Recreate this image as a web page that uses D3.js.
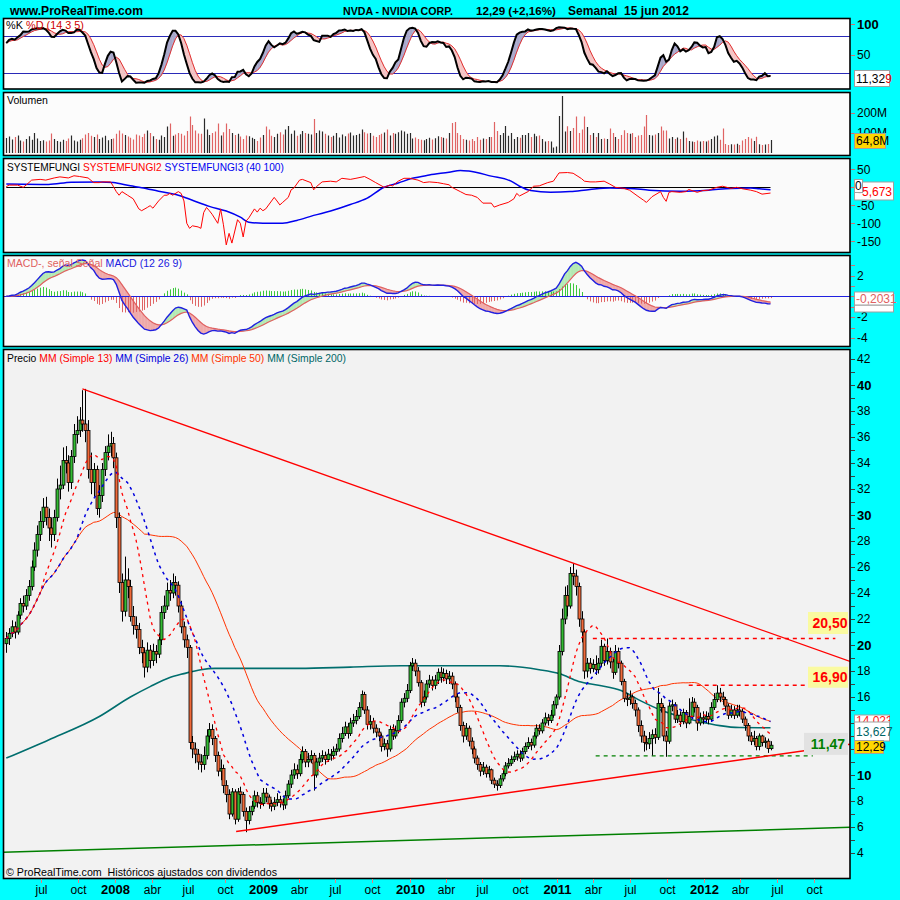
<!DOCTYPE html>
<html><head><meta charset="utf-8">
<script src="https://cdnjs.cloudflare.com/ajax/libs/d3/7.8.5/d3.min.js"></script>
<style>
body{margin:0;background:#00FFFF;}
svg{display:block;font-family:"Liberation Sans",Arial,sans-serif;}
text{white-space:pre;}
</style>
</head><body>
<svg id="c" width="900" height="900"></svg>
<script>
// ---------------- DATA ----------------
const startDate = "2007-04-06";   // first weekly bar
const firstOpen = 20.1;
const closes = [
20.5,20.9,21.4,21.0,22.3,23.2,23.0,23.8,24.5,26.0,
27.3,28.5,29.5,30.6,29.8,29.0,28.5,29.8,32.0,32.3,
34.2,34.0,32.5,34.5,36.2,36.5,37.3,37.0,36.5,33.5,
32.5,33.5,30.5,31.5,33.5,34.8,35.3,35.5,34.4,29.8,
24.8,22.6,25.0,24.5,22.2,21.5,21.2,19.8,19.4,18.3,
19.6,18.8,19.5,19.3,20.4,22.5,23.0,24.2,24.0,24.8,
24.6,23.0,21.4,20.4,19.8,12.5,12.0,11.6,11.0,10.8,
11.5,13.0,13.5,12.8,11.5,10.3,10.5,9.2,8.5,7.0,
8.7,6.6,8.7,8.5,7.2,6.5,7.2,7.6,8.4,7.9,
7.8,8.6,8.3,7.8,7.6,7.9,8.1,7.9,7.7,8.4,
9.3,10.0,10.4,10.1,11.2,11.8,11.0,11.2,11.5,10.0,
11.0,11.3,11.5,11.2,11.6,11.5,11.8,12.0,12.8,13.2,
13.7,13.2,14.0,14.2,14.5,15.2,16.2,15.0,13.9,14.1,
13.6,13.3,13.0,12.2,12.4,12.0,13.5,13.0,13.4,14.2,
15.6,15.9,16.5,18.4,18.6,18.0,17.1,15.6,16.0,17.0,
17.3,16.9,17.3,17.9,17.5,17.8,17.4,17.6,17.0,16.0,
15.2,13.8,13.0,13.6,12.6,12.0,11.3,10.8,10.3,10.6,
10.1,10.4,9.6,9.3,9.2,9.7,10.1,10.7,10.9,11.2,
11.4,11.6,11.3,11.8,12.2,12.5,12.3,13.0,13.6,13.4,
14.0,14.4,14.2,14.6,15.4,16.0,19.5,22.0,23.8,23.0,
25.5,25.3,24.5,22.0,21.0,18.0,18.6,18.2,18.5,18.1,
18.6,19.9,18.8,19.5,18.7,17.9,19.5,18.6,17.2,15.9,
15.8,16.0,15.5,15.0,13.8,13.0,12.5,12.4,12.8,13.1,
12.9,15.5,15.2,13.0,12.6,15.3,15.4,14.3,14.6,14.1,
14.8,14.0,14.5,15.6,15.2,14.0,14.4,14.3,14.5,14.3,
15.2,15.8,16.3,16.0,15.8,15.3,14.6,15.0,14.6,15.0,
14.9,14.3,13.8,13.0,12.6,12.8,12.2,13.0,12.5,12.6,
12.03,12.29];
const highs = [
21.0,21.3,21.9,21.8,22.6,23.6,23.8,24.3,25.0,26.5,
27.9,29.2,30.3,31.3,31.4,30.5,29.8,30.4,32.8,33.8,
35.2,35.3,34.6,35.0,37.0,37.6,38.3,39.6,39.7,37.3,
34.8,34.0,33.8,32.3,34.0,35.3,36.2,36.4,36.0,34.8,
30.2,25.5,26.8,25.9,25.0,23.0,22.2,21.7,20.4,19.8,
20.2,20.0,20.1,20.0,20.9,23.0,23.8,24.8,25.0,25.5,
25.3,24.9,23.4,21.8,20.8,20.0,13.0,12.5,12.0,11.6,
12.2,13.5,14.0,13.9,13.0,11.8,11.2,10.8,9.6,8.9,
9.0,8.9,9.0,9.1,8.7,7.5,7.6,8.0,8.8,8.7,
8.3,9.0,9.0,8.5,8.1,8.3,8.6,8.4,8.2,8.8,
9.6,10.4,10.9,10.8,11.6,12.2,12.0,11.7,11.9,11.7,
11.3,11.7,11.9,11.8,12.0,12.0,12.2,12.4,13.2,13.7,
14.1,14.0,14.4,14.7,15.0,15.6,16.5,16.4,15.3,14.6,
14.4,13.9,13.6,13.2,12.8,12.7,13.8,13.9,13.8,14.6,
15.9,16.3,17.0,18.7,19.0,18.9,18.3,17.3,16.5,17.3,
17.7,17.6,17.7,18.2,18.3,18.2,18.1,18.0,17.9,17.2,
16.3,15.4,14.1,14.0,13.8,12.9,12.2,11.5,11.0,11.0,
10.8,10.7,10.5,9.8,9.6,10.0,10.4,11.0,11.3,11.5,
11.8,11.9,11.9,12.1,12.5,12.9,12.8,13.3,13.9,13.9,
14.3,14.8,14.7,15.0,15.7,16.2,20.0,22.8,24.5,24.6,
26.0,26.3,25.8,24.8,22.6,21.2,19.0,19.0,18.9,19.2,
19.0,20.4,20.1,20.5,19.8,19.0,20.0,19.8,18.8,17.4,
16.3,16.5,16.2,15.8,15.2,14.2,13.4,13.0,13.3,13.5,
13.6,16.7,15.9,15.4,13.4,15.6,15.8,15.6,15.0,14.9,
15.1,15.0,15.9,16.0,15.9,15.4,14.8,14.9,14.9,14.8,
15.6,16.3,16.9,16.7,16.4,16.0,15.5,15.4,15.3,15.4,
15.4,15.1,14.5,14.0,13.3,13.4,13.0,13.2,13.1,12.9,
12.8,12.6];
const lows = [
19.4,20.0,20.6,20.5,20.8,22.0,22.5,22.7,23.4,24.2,
25.7,26.8,28.0,29.0,29.2,28.0,27.5,28.0,29.5,31.2,
32.0,33.2,31.8,32.0,34.0,35.5,36.0,36.4,35.6,32.8,
31.6,31.4,30.0,29.8,31.0,33.0,34.2,34.5,33.6,29.0,
24.0,21.8,22.2,23.6,21.8,20.8,20.5,19.3,18.6,17.5,
17.9,18.2,18.4,18.6,19.0,20.0,22.0,22.7,23.4,23.6,
23.8,22.5,20.9,19.8,19.0,12.0,11.3,10.9,10.4,10.2,
10.4,11.2,12.5,12.3,11.0,9.9,9.6,8.6,7.9,6.6,
6.8,6.2,6.4,7.8,6.8,5.6,6.2,6.9,7.4,7.5,
7.4,7.6,7.9,7.4,7.2,7.3,7.6,7.5,7.3,7.4,
8.2,9.0,9.7,9.7,9.9,10.9,10.6,10.6,10.9,8.8,
9.8,10.7,11.0,10.8,11.0,11.1,11.2,11.5,11.8,12.5,
13.0,12.8,13.0,13.7,13.9,14.3,15.0,14.7,13.5,13.5,
13.2,12.9,12.6,11.8,11.9,11.4,11.8,12.7,12.8,13.2,
14.0,15.2,15.6,16.3,18.0,17.6,16.8,15.2,15.3,15.8,
16.7,16.5,16.6,17.0,17.1,17.2,17.0,17.0,16.6,15.6,
14.8,13.4,12.5,12.7,12.2,11.6,10.9,10.4,9.9,10.0,
9.8,9.8,9.3,9.0,8.8,9.0,9.5,9.9,10.5,10.7,
11.0,11.1,11.0,11.1,11.6,12.0,11.9,12.1,12.8,13.1,
13.2,13.8,13.8,14.0,14.4,15.1,15.8,19.2,21.6,22.2,
22.8,24.6,23.8,21.4,20.2,17.4,17.5,17.8,17.9,17.7,
17.8,18.3,18.4,18.5,18.2,17.4,17.7,18.2,16.9,15.6,
15.3,15.4,15.1,14.5,13.3,12.5,11.8,11.9,12.0,11.5,
12.4,12.7,14.8,12.6,11.4,12.4,14.9,14.0,14.0,13.7,
13.9,13.6,13.9,14.3,14.8,13.4,13.8,13.9,14.0,13.9,
14.1,15.0,15.6,15.6,15.4,14.9,14.3,14.4,14.3,14.4,
14.5,14.0,13.4,12.6,12.3,12.3,11.9,11.9,12.2,12.1,
11.7,11.9];
const volumes = [ // millions of shares
75,82,68,80,88,62,58,70,84,66,
100,72,60,64,58,62,98,70,60,56,
66,60,72,88,62,58,66,74,92,100,
86,80,92,70,78,86,64,70,72,96,
112,98,90,82,76,68,92,88,80,96,
113,100,84,70,66,88,80,132,148,86,
92,100,96,88,110,182,140,112,98,96,
173,117,90,100,108,148,88,104,148,120,
100,90,96,82,70,88,84,76,70,60,
78,90,132,118,86,80,96,104,92,118,
135,96,113,86,94,110,100,96,92,170,
100,113,108,96,88,80,86,100,78,92,
84,98,102,88,90,96,118,104,98,100,
86,80,90,96,102,118,88,100,96,104,
113,108,96,100,72,78,70,66,64,70,
76,68,74,84,80,76,72,100,150,155,
100,90,70,66,62,70,60,80,66,72,
70,80,80,155,110,90,100,135,86,100,
70,80,76,90,90,100,80,96,84,88,
70,57,60,57,28,32,185,285,107,134,
110,125,182,100,118,182,130,90,100,80,
100,70,72,70,122,100,80,70,90,114,
100,96,100,80,88,90,133,190,90,88,
92,100,133,113,113,72,80,70,78,70,
107,76,60,58,55,62,57,60,57,62,
70,82,88,66,123,45,40,44,42,46,
40,62,70,80,72,60,81,44,40,42,
45,64.8];
// Simple 200 moving average: [week index, value]
const ma200Points = [[0,11.3],[15,12.7],[33,14.5],[44,16.0],[51,16.8],[58,17.5],[63,17.8],[69,18.1],[74,18.2],[86,18.2],[104,18.2],[122,18.3],[140,18.4],[157,18.4],[175,18.4],[189,18.1],[196,17.8],[203,17.2],[210,16.9],[218,16.5],[225,15.7],[232,15.0],[239,14.5],[246,14.1],[253,13.8],[260,13.65],[271,13.63]];
// SYSTEMFUNGI2 (red) [week index, value]
const fungi2Points = [[0,2],[1,6],[4,6],[6,0],[7,6],[9,20],[12,22],[14,20],[17,26],[19,29],[22,26],[24,32],[26,30],[29,26],[31,13],[33,13],[34,15],[37,15],[38,2],[39,-12],[40,-22],[41,-12],[43,-22],[45,-32],[47,-60],[48,-65],[50,-56],[51,-51],[52,-58],[54,-38],[56,-22],[57,-22],[58,-17],[59,-22],[61,-12],[62,-17],[63,-38],[64,-100],[65,-114],[66,-107],[68,-110],[69,-114],[70,-70],[71,-56],[72,-65],[73,-75],[75,-100],[76,-60],[77,-104],[78,-160],[79,-128],[80,-155],[82,-90],[83,-100],[84,-138],[85,-94],[86,-85],[88,-60],[89,-69],[90,-58],[91,-65],[92,-60],[95,-28],[96,-38],[97,-49],[98,-42],[100,-28],[101,-7],[102,-2],[104,20],[105,22],[108,13],[109,-7],[110,2],[112,15],[115,17],[117,15],[119,25],[122,22],[124,25],[127,30],[129,22],[131,13],[134,0],[136,6],[137,4],[139,17],[141,25],[143,25],[146,20],[148,13],[150,15],[153,13],[155,10],[157,7],[158,0],[161,-12],[163,-20],[165,-22],[167,-28],[169,-44],[172,-44],[173,-55],[175,-49],[178,-42],[180,-32],[181,-17],[182,-24],[185,-12],[187,3],[189,4],[192,13],[194,17],[196,40],[199,41],[201,39],[204,24],[205,17],[207,15],[209,15],[212,17],[214,9],[216,0],[219,-3],[221,-8],[224,-25],[226,-36],[227,-42],[229,-26],[232,-12],[233,-28],[234,-39],[235,-14],[236,-12],[239,-14],[241,-12],[242,-6],[245,-14],[247,-9],[249,-8],[252,0],[254,3],[257,-3],[259,0],[261,-4],[264,-8],[266,-12],[268,-19],[271,-16]];
// SYSTEMFUNGI3 (blue) [week index, value]
const fungi3Points = [[0,9],[15,8],[23,14],[33,15],[38,13],[44,4],[48,-1],[54,-11],[61,-22],[66,-36],[72,-53],[78,-66],[83,-83],[86,-97],[91,-100],[98,-100],[103,-92],[109,-78],[115,-66],[122,-48],[128,-30],[134,0],[139,12],[144,25],[150,34],[157,42],[161,47],[164,45],[172,31],[179,17],[182,3],[186,-9],[193,-14],[200,-12],[207,-6],[214,-2],[221,-3],[228,-8],[239,-11],[249,-8],[257,-3],[264,-2],[267,-4],[271,-7]];
// Trend lines [week index, price]
const trendDown = [[27,39.7],[201,26.3]];
const trendUp = [[81.5,5.65],[271,11.5]];
const trendLong = [[-2,4.05],[299,5.97]];
// Horizontal levels
const levelValues = [20.5, 16.9, 11.47];
const levelLabels = ["20,50","16,90","11,47"];
const levelFrom = [208, 242, 209];
const levelTo = [294, 293, 286];
// Last-value labels
const lastStoch = ["11,32","9"], lastVolume = "64,8M", lastFungi = ["0","-5,673"], lastMacd = "-0,2031";
const lastMA50 = "14,023", lastMA200 = "13,627", lastClose = "12,29";
const priceTickValues = d3.range(4, 43);
const hiddenPriceLabels = [12, 14];
const monthNames = {3:"abr",6:"jul",9:"oct"};

// ---------------- HELPERS ----------------
const svg = d3.select("#c");
const L = 3.5, R = 850;
const N = closes.length;
const day = 864e5;
const t0 = d3.utcParse("%Y-%m-%d")(startDate);
const dates = d3.range(N).map(i => new Date(+t0 + i*7*day));
const opens = closes.map((c,i) => i === 0 ? firstOpen : closes[i-1]);
const x = d3.scaleUtc().domain([dates[0], dates[N-1]]).range([6.3, 770.5]);
const xw = w => x(new Date(+t0 + w*7*day));
const wRight = (x.invert(R) - t0) / (7*day);

function sma(a, n){ return a.map((_, i) => d3.mean(a.slice(Math.max(0, i-n+1), i+1))); }
function ema(a, n){ const k = 2/(n+1); let e; return a.map((v,i) => e = (i === 0 ? v : v*k + e*(1-k))); }

const ma13 = sma(closes, 13), ma26 = sma(closes, 26), ma50 = sma(closes, 50);
const rawK = closes.map((c,i) => { const s = Math.max(0, i-13); const hh = d3.max(highs.slice(s,i+1)), ll = d3.min(lows.slice(s,i+1)); return hh > ll ? (c-ll)/(hh-ll)*100 : 50; });
const kLine = sma(rawK, 3), dLine = sma(kLine, 5);
const e12 = ema(closes, 12), e26 = ema(closes, 26);
const macd = e12.map((v,i) => v - e26[i]);
const sig = ema(macd, 9);
const hist = macd.map((v,i) => v - sig[i]);

const P = {
  stoch:{top:18.5,bottom:89,bg:"#FFFFFF"},
  vol:{top:92.5,bottom:155.5,bg:"#FCFCFC"},
  fungi:{top:158.5,bottom:252.5,bg:"#FAFAFA"},
  macd:{top:255.5,bottom:346.5,bg:"#FAFAFA"},
  price:{top:349.5,bottom:878.5,bg:"#F2F2F2"}
};
const yStoch = d3.scaleLinear([0,100],[85,24]);
const yVol = d3.scaleLinear([0,200],[153,113]);
const yFungi = d3.scaleLinear([-150,50],[241.3,169.3]);
const yMacd = d3.scaleLinear([-4,2],[337.9,275.5]);
const yPrice = d3.scaleLinear([4,42],[853,359]);

const defs = svg.append("defs");
Object.entries(P).forEach(([k,p]) => {
  defs.append("clipPath").attr("id","clip-"+k).append("rect").attr("x",L).attr("y",p.top).attr("width",R-L).attr("height",p.bottom-p.top);
  svg.append("rect").attr("x",L).attr("y",p.top).attr("width",R-L).attr("height",p.bottom-p.top).attr("fill",p.bg);
});
const layer = k => svg.append("g").attr("clip-path","url(#clip-"+k+")");

function segFill(g, a, b, y, upColor, downColor){
  for(let i=0;i<N-1;i++){
    const up = (a[i]+a[i+1]) - (b[i]+b[i+1]) >= 0;
    const c = up ? upColor : downColor;
    g.append("path").attr("d", d3.line()([[x(dates[i]),y(a[i])],[x(dates[i+1]),y(a[i+1])],[x(dates[i+1]),y(b[i+1])],[x(dates[i]),y(b[i])]]) + "Z")
      .attr("fill", c).attr("stroke", c).attr("stroke-width", 0.4);
  }
}
function fit(t, target){
  const len = t.node().getComputedTextLength();
  const fs = +t.attr("font-size");
  if (len > 0) t.attr("font-size", (fs*target/len).toFixed(2));
  return t;
}
function multiText(px, py, parts, size, target){
  const t = svg.append("text").attr("x",px).attr("y",py).attr("font-size",size);
  parts.forEach(([s,c,b]) => t.append("tspan").attr("fill",c).attr("font-weight",b?"bold":null).text(s));
  if (target) fit(t, target);
  return t;
}
const lineIdx = (arr, y) => d3.line().x((d,i)=>x(dates[i])).y(d=>y(d))(arr);

// ---------------- STOCHASTIC ----------------
{
  const g = layer("stoch");
  [80,20].forEach(v => g.append("line").attr("x1",L).attr("x2",R).attr("y1",Math.round(yStoch(v))+0.5).attr("y2",Math.round(yStoch(v))+0.5).attr("stroke","#2A2AB8").attr("stroke-width",1));
  segFill(g, kLine, dLine, yStoch, "#A9A9CC", "#F5C4C4");
  g.append("path").attr("d",lineIdx(dLine,yStoch)).attr("fill","none").attr("stroke","#E03030").attr("stroke-width",1);
  g.append("path").attr("d",lineIdx(kLine,yStoch)).attr("fill","none").attr("stroke","#000").attr("stroke-width",2);
  multiText(6, 29, [["%K","#000"],[" %D (14 3 5)","#D00000"]], 12, 78);
}
// ---------------- VOLUME ----------------
{
  const g = layer("vol");
  g.selectAll("line").data(d3.range(N)).join("line")
    .attr("x1",i=>Math.round(x(dates[i]))+0.5).attr("x2",i=>Math.round(x(dates[i]))+0.5)
    .attr("y1",yVol(0)).attr("y2",i=>yVol(volumes[i]))
    .attr("stroke",i=>closes[i] >= opens[i] ? "#2A2A2A" : "#E06464").attr("stroke-width",1.2);
  multiText(7, 104, [["Volumen","#000"]], 12, 41);
}
// ---------------- SYSTEMFUNGI ----------------
{
  const g = layer("fungi");
  g.append("line").attr("x1",x(dates[0])).attr("x2",x(dates[N-1])).attr("y1",Math.round(yFungi(0))+0.5).attr("y2",Math.round(yFungi(0))+0.5).attr("stroke","#000").attr("stroke-width",1.2);
  g.append("path").attr("d",d3.line().x(d=>xw(d[0])).y(d=>yFungi(d[1])).curve(d3.curveMonotoneX)(fungi3Points)).attr("fill","none").attr("stroke","#0000F0").attr("stroke-width",1.5);
  g.append("path").attr("d",d3.line().x(d=>xw(d[0])).y(d=>yFungi(d[1]))(fungi2Points)).attr("fill","none").attr("stroke","#FF0000").attr("stroke-width",1);
  multiText(7, 170.5, [["SYSTEMFUNGI","#000"],[" SYSTEMFUNGI2","#FF0000"],[" SYSTEMFUNGI3 (40 100)","#0000F0"]], 12, 277);
}
// ---------------- MACD ----------------
{
  const g = layer("macd");
  segFill(g, macd, sig, yMacd, "#B4EAB4", "#F0AAAA");
  g.selectAll("line.h").data(d3.range(N)).join("line").attr("class","h")
    .attr("x1",i=>Math.round(x(dates[i]))+0.5).attr("x2",i=>Math.round(x(dates[i]))+0.5)
    .attr("y1",yMacd(0)).attr("y2",i=>yMacd(hist[i]))
    .attr("stroke",i=>hist[i] >= 0 ? "#3CC83C" : "#E06464").attr("stroke-width",1);
  g.append("line").attr("x1",L).attr("x2",R).attr("y1",Math.round(yMacd(0))+0.5).attr("y2",Math.round(yMacd(0))+0.5).attr("stroke","#2020E0").attr("stroke-width",1.2);
  g.append("path").attr("d",lineIdx(sig,yMacd)).attr("fill","none").attr("stroke","#E06060").attr("stroke-width",1.2);
  g.append("path").attr("d",lineIdx(macd,yMacd)).attr("fill","none").attr("stroke","#2020E0").attr("stroke-width",1.4);
  multiText(7, 267, [["MACD-, señal Señal","#E06060"],[" MACD (12 26 9)","#2020E0"]], 12, 175);
}
// ---------------- PRICE ----------------
{
  const g = layer("price");
  // horizontal levels
  const lvlColors = ["#FF0000","#FF0000","#008000"];
  levelValues.forEach((v,k) => g.append("line").attr("x1",xw(levelFrom[k])).attr("x2",xw(levelTo[k]))
     .attr("y1",yPrice(v)).attr("y2",yPrice(v))
     .attr("stroke",lvlColors[k]).attr("stroke-width",1.4).attr("stroke-dasharray","4,4"));
  // long green trend line
  const ext = (pts, fromW, toW) => { const [a,b] = pts; const s = (b[1]-a[1])/(b[0]-a[0]); return [[fromW, a[1]+s*(fromW-a[0])],[toW, a[1]+s*(toW-a[0])]]; };
  const tl = d3.line().x(d=>xw(d[0])).y(d=>yPrice(d[1]));
  g.append("path").attr("d",tl(ext(trendLong,-2,wRight))).attr("stroke","#008000").attr("stroke-width",1.5).attr("fill","none");
  // MAs
  g.append("path").attr("d",d3.line().x(d=>xw(d[0])).y(d=>yPrice(d[1])).curve(d3.curveMonotoneX)(ma200Points)).attr("fill","none").attr("stroke","#006E6E").attr("stroke-width",1.6);
  g.append("path").attr("d",lineIdx(ma50,yPrice)).attr("fill","none").attr("stroke","#FF3300").attr("stroke-width",1);
  // candles
  const cx = i => Math.round(x(dates[i]));
  g.selectAll("line.wick").data(d3.range(N)).join("line").attr("class","wick")
    .attr("x1",i=>cx(i)+0.5).attr("x2",i=>cx(i)+0.5).attr("y1",i=>yPrice(highs[i])).attr("y2",i=>yPrice(lows[i]))
    .attr("stroke","#000").attr("stroke-width",1);
  g.selectAll("rect.body").data(d3.range(N)).join("rect").attr("class","body")
    .attr("x",i=>cx(i)-1).attr("width",3)
    .attr("y",i=>yPrice(Math.max(opens[i],closes[i])))
    .attr("height",i=>Math.max(1, Math.abs(yPrice(opens[i])-yPrice(closes[i]))))
    .attr("fill",i=>closes[i] >= opens[i] ? "#33BB33" : "#F06A3A")
    .attr("stroke","#000").attr("stroke-width",0.8);
  g.append("path").attr("d",lineIdx(ma26,yPrice)).attr("fill","none").attr("stroke","#0000DD").attr("stroke-width",1.5).attr("stroke-dasharray","3,4");
  g.append("path").attr("d",lineIdx(ma13,yPrice)).attr("fill","none").attr("stroke","#FF0000").attr("stroke-width",1.3).attr("stroke-dasharray","3,4");
  // trend lines
  g.append("path").attr("d",tl(ext(trendDown,trendDown[0][0],wRight))).attr("stroke","#FF0000").attr("stroke-width",1.3).attr("fill","none");
  g.append("path").attr("d",tl(ext(trendUp,trendUp[0][0],wRight))).attr("stroke","#FF0000").attr("stroke-width",1.5).attr("fill","none");
  // level annotation boxes
  const boxFill = ["#FAFAA0","#FAFAA0","#E2E2E2"];
  const txtCol = ["#FF0000","#FF0000","#008000"];
  const boxX = [808,808,804], boxW = [40,40,44];
  const boxY = [yPrice(22.0)-7, yPrice(18.1)-3, yPrice(11.47)-23];
  const boxH = [22,21,22];
  levelValues.forEach((v,k) => {
    svg.append("rect").attr("x",boxX[k]).attr("y",boxY[k]).attr("width",boxW[k]).attr("height",boxH[k]).attr("fill",boxFill[k]);
    svg.append("text").attr("x",boxX[k]+boxW[k]/2+2).attr("y",boxY[k]+boxH[k]/2+5).attr("text-anchor","middle")
      .attr("font-size",14).attr("font-weight","bold").attr("fill",txtCol[k]).text(levelLabels[k]);
  });
  multiText(7, 362, [["Precio","#000"],[" MM (Simple 13)","#FF0000"],[" MM (Simple 26)","#0000DD"],[" MM (Simple 50)","#FF3300"],[" MM (Simple 200)","#006666"]], 12, 339);
  multiText(6, 875.5, [["© ProRealTime.com  Históricos ajustados con dividendos","#000"]], 12, 271);
}
// ---------------- FRAMES ----------------
Object.values(P).forEach(p => svg.append("rect").attr("x",L).attr("y",p.top).attr("width",R-L).attr("height",p.bottom-p.top).attr("fill","none").attr("stroke","#000").attr("stroke-width",1.6));

// ---------------- RIGHT AXES ----------------
function tick(y, col){ svg.append("line").attr("x1",R+1).attr("x2",R+5).attr("y1",Math.round(y)+0.5).attr("y2",Math.round(y)+0.5).attr("stroke",col).attr("stroke-width",1); }
function lab(y, s, bold, size){ svg.append("text").attr("x",857).attr("y",y).attr("dy","0.36em").attr("font-size",size||12).attr("font-weight",bold?"bold":null).attr("fill","#000").text(s); }
[100,50].forEach(v => { tick(yStoch(v),"#D07070"); lab(yStoch(v), String(v), v===100, v===100?13:12); });
[200,100].forEach(v => { tick(yVol(v),"#D07070"); if(v===200) lab(yVol(v), v+"M"); });
[50,0,-50,-100,-150].forEach(v => { tick(yFungi(v),"#D07070"); if(v!==0) lab(yFungi(v), String(v)); });
d3.range(-4,4).forEach(v => { tick(yMacd(v),"#D07070"); if(v===2||v===-2||v===-4) lab(yMacd(v), String(v)); });
priceTickValues.forEach(v => { tick(yPrice(v),"#404040"); if(v%2===0 && !hiddenPriceLabels.includes(v)) lab(yPrice(v), String(v), v%10===0, v%10===0?13:12); });

function valBox(x0,y0,w,h,fill){ svg.append("rect").attr("x",x0+0.5).attr("y",y0+0.5).attr("width",w).attr("height",h).attr("fill",fill).attr("stroke","#A0A0A0").attr("stroke-width",1); }
function valText(x0,y0,s,col){ return svg.append("text").attr("x",x0).attr("y",y0).attr("font-size",12).attr("fill",col).text(s); }
// volume "100M" label, mostly hidden behind the last-value box (top part visible as in the reference)
defs.append("clipPath").attr("id","clip-100m").append("rect").attr("x",852).attr("y",120).attr("width",48).attr("height",13);
svg.append("text").attr("clip-path","url(#clip-100m)").attr("x",857).attr("y",yVol(100)).attr("dy","0.36em").attr("font-size",12).attr("fill","#000").text("100M");
// stochastic last value
valBox(854,70,35,16,"#FFFFFF");
const st = svg.append("text").attr("x",856).attr("y",82.5).attr("font-size",12);
st.append("tspan").attr("fill","#000").text(lastStoch[0]); st.append("tspan").attr("fill","#E00000").text(lastStoch[1]);
// volume
valBox(854,133,31,15,"#FFD700"); valText(856,145,lastVolume,"#000");
// fungi
valBox(854,181.5,39,18,"#FFFFFF"); valText(858,195.5,lastFungi[1],"#FF0000");
valBox(854,179,8,13,"#FFFFFF"); valText(855,189.5,lastFungi[0],"#000");
// macd
valBox(854,304.5,39,7,"#FFFFFF");
valBox(854,291.5,39,13,"#FFFFFF"); valText(856,302.5,lastMacd,"#E06060");
// price
defs.append("clipPath").attr("id","clip-ma50").append("rect").attr("x",854).attr("y",714).attr("width",36).attr("height",8);
valBox(854,714.5,35,10,"#FFFFFF"); valText(856,725,lastMA50,"#FF2020").attr("clip-path","url(#clip-ma50)");
valBox(854,721.5,35,19,"#FFFFFF"); valText(856,736,lastMA200,"#006666");
valBox(854,740,29,13,"#FFD700"); valText(856,751,lastClose,"#000");

// ---------------- X AXIS ----------------
const qTicks = d3.utcMonth.every(3).range(new Date(Date.UTC(2007,6,1)), new Date(Date.UTC(2012,9,2)));
qTicks.forEach(d => {
  const px = Math.round(x(d))+0.5;
  svg.append("line").attr("x1",px).attr("x2",px).attr("y1",879).attr("y2",883).attr("stroke","#E08080").attr("stroke-width",1);
  const m = d.getUTCMonth();
  const isYear = m === 0;
  svg.append("text").attr("x",px).attr("y",893.5).attr("text-anchor","middle")
    .attr("font-size",isYear?13:12).attr("font-weight",isYear?"bold":null).attr("fill","#000")
    .text(isYear ? String(d.getUTCFullYear()) : monthNames[m]);
});

// ---------------- HEADER ----------------
const hdr = (px, s, w) => fit(svg.append("text").attr("x",px).attr("y",14.5).attr("font-size",12.5).attr("font-weight","bold").attr("fill","#000").text(s), w);
hdr(10, "www.ProRealTime.com", 133);
hdr(343, "NVDA - NVIDIA CORP.", 110);
hdr(476, "12,29 (+2,16%)", 80);
hdr(568, "Semanal  15 jun 2012", 121);
</script>
</body></html>
